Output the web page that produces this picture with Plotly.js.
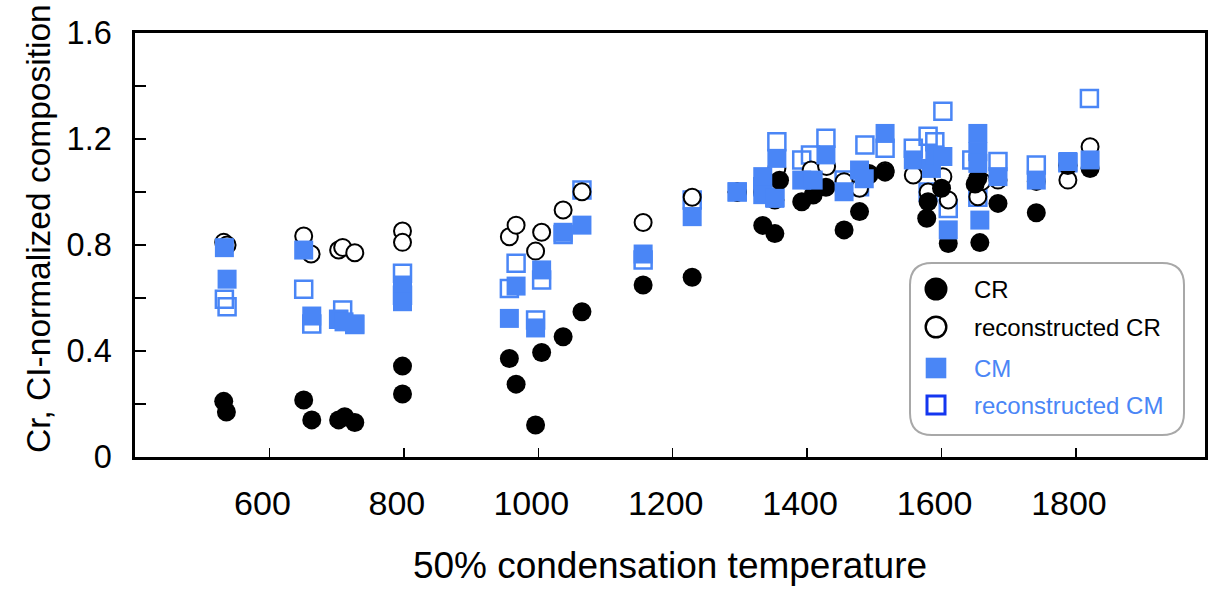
<!DOCTYPE html>
<html>
<head>
<meta charset="utf-8">
<script src="https://cdn.plot.ly/plotly-3.0.1.min.js"></script>
<style>html,body{margin:0;padding:0;background:#fff;}#chart{width:1213px;height:597px;}</style>
</head>
<body>
<div id="chart"></div>
<script>
// ---- data ----
const crX = [532,536,651,663,703,712,727,798,798,957,967,996,1005,1037,1065,1156,1229,1296,1334,1352,1359,1392,1409,1428,1455,1478,1492,1516,1578,1580,1600,1610,1650,1654,1657,1684,1741,1788,1821];
const crY = [0.21,0.17,0.215,0.14,0.14,0.152,0.13,0.343,0.238,0.372,0.275,0.121,0.394,0.454,0.548,0.649,0.678,1.0,0.874,0.843,1.044,0.963,0.989,1.018,0.857,0.926,1.064,1.075,0.901,0.963,1.014,0.806,1.03,1.052,0.809,0.957,0.922,1.10,1.089];

const recCrX = [532,537,651,662,703,709,727,798,798,957,967,996,1005,1037,1065,1156,1229,1296,1334,1352,1355,1406,1429,1455,1478,1492,1516,1558,1580,1602,1610,1654,1660,1684,1741,1788,1821];
const recCrY = [0.81,0.80,0.834,0.766,0.781,0.791,0.771,0.853,0.810,0.831,0.875,0.777,0.848,0.932,1.001,0.885,0.980,1.0,1.0,0.97,1.089,1.083,1.096,1.039,1.014,1.07,1.08,1.064,1.0,1.058,0.97,0.982,1.04,1.045,1.04,1.045,1.171];

const cmX = [533,537,651,663,703,711,727,798,798,957,967,996,1005,1037,1065,1156,1229,1296,1334,1334,1352,1355,1392,1409,1428,1455,1478,1485,1516,1558,1585,1590,1602,1610,1654,1654,1654,1657,1684,1741,1788,1821];
const cmY = [0.79,0.671,0.781,0.532,0.519,0.51,0.502,0.649,0.586,0.523,0.645,0.487,0.706,0.848,0.875,0.766,0.907,1.001,1.058,0.99,0.976,1.127,1.045,1.045,1.14,1.001,1.083,1.05,1.221,1.121,1.089,1.14,1.134,0.857,1.221,1.152,1.108,0.894,1.058,1.045,1.115,1.121];

const recCmX = [533,537,651,663,703,709,727,798,798,957,967,996,1005,1037,1065,1156,1229,1296,1334,1352,1355,1392,1405,1428,1455,1486,1478,1516,1558,1580,1590,1580,1602,1610,1645,1654,1684,1741,1788,1820];
const recCmY = [0.595,0.567,0.633,0.502,0.52,0.555,0.50,0.693,0.61,0.636,0.731,0.517,0.668,0.84,1.008,0.743,0.970,1.0,1.02,0.98,1.19,1.121,1.14,1.203,1.045,1.177,1.02,1.165,1.165,1.21,1.19,1.0,1.305,0.938,1.121,0.98,1.115,1.102,1.11,1.353];

const xTicks = [600,800,1000,1200,1400,1600,1800];
const yTicks = [0,0.2,0.4,0.6,0.8,1.0,1.2,1.4,1.6];
const yTickText = ['0','','0.4','','0.8','','1.2','','1.6'];
const legendNames = ['CR','reconstructed CR','CM','reconstructed CM'];
const xTitle = '50% condensation temperature';
const yTitle = 'Cr, CI-normalized composition';

// ---- styling ----
const BLUE = '#4a86f6';
const LEGBLUE = '#1436f0';
const FONT = 'Liberation Sans, Arial, Helvetica, sans-serif';
const W = 1213, H = 597;
const M = {l:135, r:8, t:33, b:140};
const PW = W - M.l - M.r, PH = H - M.t - M.b;
const px = x => (x - M.l) / PW;          // pixel -> paper x
const py = y => (H - M.b - y) / PH;      // pixel -> paper y

const traces = [
  {x: recCmX, y: recCmY, type:'scatter', mode:'markers', name: legendNames[3], showlegend:false,
   marker:{symbol:'square-open', size:17, color:BLUE, line:{width:2.5, color:BLUE}}},
  {x: recCrX, y: recCrY, type:'scatter', mode:'markers', name: legendNames[1], showlegend:false,
   marker:{symbol:'circle', size:17, color:'#ffffff', line:{width:2, color:'#000'}}},
  {x: crX, y: crY, type:'scatter', mode:'markers', name: legendNames[0], showlegend:false,
   marker:{symbol:'circle', size:19, color:'#000', line:{width:0}}},
  {x: cmX, y: cmY, type:'scatter', mode:'markers', name: legendNames[2], showlegend:false,
   marker:{symbol:'square', size:19, color:BLUE, line:{width:0}}}
];

// custom legend (rounded box)
const bx0 = px(910), bx1 = px(1184), by0 = py(435), by1 = py(263);
const rx = 22 / PW, ry = 22 / PH;
const boxPath = `M ${bx0+rx},${by1} L ${bx1-rx},${by1} Q ${bx1},${by1} ${bx1},${by1-ry} L ${bx1},${by0+ry} Q ${bx1},${by0} ${bx1-rx},${by0} L ${bx0+rx},${by0} Q ${bx0},${by0} ${bx0},${by0+ry} L ${bx0},${by1-ry} Q ${bx0},${by1} ${bx0+rx},${by1} Z`;
const lx = 936;
const rows = [289, 327, 368, 405];
const shapes = [
  {type:'path', xref:'paper', yref:'paper', path: boxPath, line:{color:'#a8a8a8', width:2}, fillcolor:'#ffffff', layer:'above'},
  {type:'circle', xref:'paper', yref:'paper', x0:px(lx-11.5), x1:px(lx+11.5), y0:py(rows[0]+11.5), y1:py(rows[0]-11.5), fillcolor:'#000', line:{width:0}, layer:'above'},
  {type:'circle', xref:'paper', yref:'paper', x0:px(lx-10.3), x1:px(lx+10.3), y0:py(rows[1]+10.3), y1:py(rows[1]-10.3), fillcolor:'#fff', line:{width:2.4, color:'#000'}, layer:'above'},
  {type:'rect', xref:'paper', yref:'paper', x0:px(lx-10.3), x1:px(lx+10.3), y0:py(rows[2]+10.3), y1:py(rows[2]-10.3), fillcolor:BLUE, line:{width:0}, layer:'above'},
  {type:'rect', xref:'paper', yref:'paper', x0:px(lx-9), x1:px(lx+9), y0:py(rows[3]+9), y1:py(rows[3]-9), fillcolor:'#fff', line:{width:3, color:LEGBLUE}, layer:'above'}
];
const legColors = ['#000','#000',BLUE,BLUE];
const annotations = legendNames.map((n,i)=>({
  text:n, xref:'paper', yref:'paper', x:px(972), y:py(rows[i]), xanchor:'left', yanchor:'middle',
  showarrow:false, font:{family:FONT, size:24, color:legColors[i]}
}));
// y-axis title placed as in the reference (slightly above the plot's centre)
annotations.push({text:yTitle, xref:'paper', yref:'paper', x:px(38), y:py(229), xanchor:'center', yanchor:'middle',
  textangle:-90, showarrow:false, font:{family:FONT, size:33.5, color:'#000'}});

const layout = {
  width:W, height:H, margin:M, paper_bgcolor:'#fff', plot_bgcolor:'#fff',
  showlegend:false, font:{family:FONT, color:'#000'},
  xaxis:{range:[400,1992], tickvals:xTicks, ticktext:xTicks.map(String), ticks:'inside', ticklen:9, tickwidth:1.5, tickcolor:'#000',
    showline:true, linecolor:'#000', linewidth:2.7, mirror:true, showgrid:false, zeroline:false,
    tickfont:{family:FONT, size:34, color:'#000'}, ticklabelstandoff:14, ticklabelshift:-7,
    title:{text:xTitle, font:{family:FONT, size:37, color:'#000'}, standoff:32}},
  yaxis:{range:[0,1.6], tickvals:yTicks, ticktext:yTickText, ticks:'inside', ticklen:11, tickwidth:1.5, tickcolor:'#000',
    showline:true, linecolor:'#000', linewidth:2.7, mirror:true, showgrid:false, zeroline:false,
    tickfont:{family:FONT, size:32.5, color:'#000'}, ticklabelstandoff:14},
  shapes:shapes, annotations:annotations
};

Plotly.newPlot('chart', traces, layout, {displayModeBar:false, staticPlot:true});
</script>
</body>
</html>
